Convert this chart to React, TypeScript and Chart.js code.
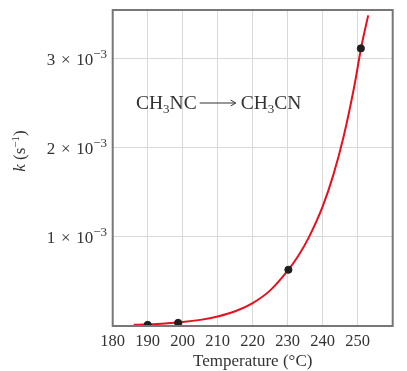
import React, { useEffect, useRef } from 'react';
import { Chart, registerables } from 'chart.js';

Chart.register(...registerables);

// ---- data ----
const xTickValues = [180, 190, 200, 210, 220, 230, 240, 250];
const yTickMantissas = [1, 2, 3]; // × 10⁻³
const yTickExponent = '−3';

// measured rate constants (points)
const pointTemps = [190, 198.7, 230.2, 250.9];
const pointKs = [0.000012, 0.000035, 0.00063, 0.00311];

// fitted curve
const curveTemps = [186, 190, 195, 200, 205, 210, 215, 220, 225, 230, 233, 236, 240, 243, 246, 249, 251, 253];
const curveKs = [0.0000129, 0.0000183, 0.0000284, 0.0000441, 0.0000686, 0.0001065, 0.000165, 0.000257, 0.000399, 0.00062, 0.000784, 0.00099, 0.00134, 0.001687, 0.002126, 0.00268, 0.00312, 0.00348];

const annotationLeft = 'CH';
const annotationSub = '3';
const annotationMid = 'NC';
const annotationRight = 'CN';
const xTitle = 'Temperature (°C)';

const FONT = '"Liberation Serif", "DejaVu Serif", serif';
const TEXT = '#333333';

export default function App() {
  const ref = useRef<HTMLCanvasElement>(null);

  useEffect(() => {
    document.body.style.margin = '0';
    const canvas = ref.current!;

    const textPlugin = {
      id: 'customText',
      afterDraw(chart: any) {
        const ctx: CanvasRenderingContext2D = chart.ctx;
        const { chartArea } = chart;
        const yScale = chart.scales.y;
        ctx.save();
        ctx.fillStyle = TEXT;

        // frame
        ctx.strokeStyle = '#777777';
        ctx.lineWidth = 2;
        ctx.strokeRect(chartArea.left, chartArea.top, chartArea.right - chartArea.left, chartArea.bottom - chartArea.top);

        // y tick labels with superscript exponents
        const rightX = 107;
        for (const m of yTickMantissas) {
          const y = yScale.getPixelForValue(m * 1e-3);
          ctx.font = `13px ${FONT}`;
          const ew = ctx.measureText(yTickExponent).width;
          ctx.textAlign = 'left';
          ctx.textBaseline = 'alphabetic';
          ctx.fillText(yTickExponent, rightX - ew, y - 0.5);
          ctx.font = `17px ${FONT}`;
          ctx.textAlign = 'right';
          ctx.fillText(`${m}\u2004×\u200410`, rightX - ew, y + 6.5);
        }

        // y axis title: k (s⁻¹)
        ctx.save();
        ctx.translate(20, 151);
        ctx.rotate(-Math.PI / 2);
        ctx.textAlign = 'left';
        ctx.textBaseline = 'alphabetic';
        const parts: [string, string, number][] = [
          ['k', `italic 17px ${FONT}`, 0],
          [' (s', `17px ${FONT}`, 0],
          ['−1', `11px ${FONT}`, -6],
          [')', `17px ${FONT}`, 0],
        ];
        let total = 0;
        for (const [t, f] of parts) { ctx.font = f; total += ctx.measureText(t).width; }
        let cx = -total / 2;
        for (const [t, f, dy] of parts) {
          ctx.font = f;
          ctx.fillText(t, cx, 5 + dy);
          cx += ctx.measureText(t).width;
        }
        ctx.restore();

        // x axis title
        ctx.font = `17px ${FONT}`;
        ctx.textAlign = 'center';
        ctx.textBaseline = 'alphabetic';
        ctx.fillText(xTitle, (chartArea.left + chartArea.right) / 2, 366);

        // reaction annotation
        const big = `19.5px ${FONT}`;
        const small = `13px ${FONT}`;
        const base = 108.5;
        let ax = 136;
        const drawPiece = (t: string, f: string, dy: number) => {
          ctx.font = f;
          ctx.textAlign = 'left';
          ctx.fillText(t, ax, base + dy);
          ax += ctx.measureText(t).width;
        };
        drawPiece(annotationLeft, big, 0);
        drawPiece(annotationSub, small, 4);
        drawPiece(annotationMid, big, 0);
        // arrow
        const ay = base - 5.5;
        const a0 = ax + 3;
        const a1 = a0 + 36;
        ctx.strokeStyle = TEXT;
        ctx.lineWidth = 1;
        ctx.beginPath();
        ctx.moveTo(a0, ay);
        ctx.lineTo(a1, ay);
        ctx.stroke();
        ctx.beginPath();
        ctx.moveTo(a1 - 5, ay - 3);
        ctx.lineTo(a1, ay);
        ctx.lineTo(a1 - 5, ay + 3);
        ctx.stroke();
        ax = a1 + 5;
        drawPiece(annotationLeft, big, 0);
        drawPiece(annotationSub, small, 4);
        drawPiece(annotationRight, big, 0);

        ctx.restore();
      },
    };

    const chart = new Chart(canvas, {
      type: 'scatter',
      data: {
        datasets: [
          {
            data: curveTemps.map((t, i) => ({ x: t, y: curveKs[i] })),
            showLine: true,
            borderColor: '#e8101e',
            borderWidth: 2,
            pointRadius: 0,
            cubicInterpolationMode: 'monotone',
            order: 2,
          } as any,
          {
            data: pointTemps.map((t, i) => ({ x: t, y: pointKs[i] })),
            backgroundColor: '#1f1f1f',
            borderColor: '#1f1f1f',
            pointRadius: 3.6,
            order: 1,
          },
        ],
      },
      options: {
        responsive: false,
        animation: false,
        layout: { padding: { top: 10, right: 14.3, left: 0, bottom: 0 } },
        plugins: { legend: { display: false }, tooltip: { enabled: false } },
        scales: {
          x: {
            type: 'linear',
            min: 180,
            max: 260,
            afterBuildTicks: (s: any) => { s.ticks = xTickValues.map((v) => ({ value: v })); },
            afterFit: (s: any) => { s.height = 45; },
            grid: { color: '#d9d9d9', lineWidth: 1, drawTicks: false },
            border: { display: false },
            ticks: { color: TEXT, font: { family: FONT, size: 16.5 }, padding: 6, maxRotation: 0 },
          },
          y: {
            type: 'linear',
            min: 0,
            max: 0.00354,
            afterBuildTicks: (s: any) => { s.ticks = yTickMantissas.map((v) => ({ value: v * 1e-3 })); },
            afterFit: (s: any) => { s.width = 112.7; },
            grid: { color: '#d9d9d9', lineWidth: 1, drawTicks: false },
            border: { display: false },
            ticks: { display: false },
          },
        },
      },
      plugins: [textPlugin],
    });
    return () => chart.destroy();
  }, []);

  return (
    <div style={{ width: 407, height: 371 }}>
      <canvas ref={ref} width={407} height={371} style={{ display: 'block' }} />
    </div>
  );
}
